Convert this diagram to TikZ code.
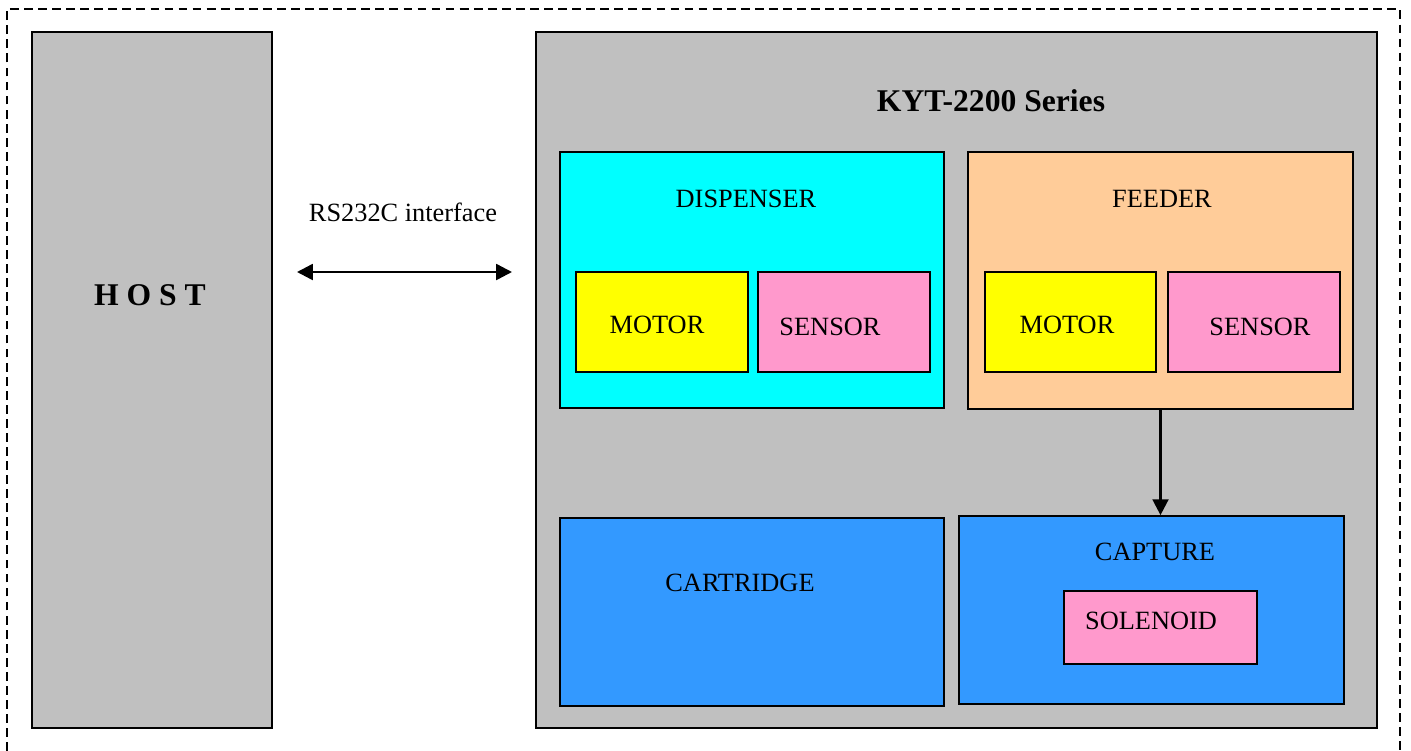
\documentclass[tikz,border=0pt]{standalone}
\usepackage{fontspec}
\setmainfont{Liberation Serif}
\usetikzlibrary{arrows.meta}
\definecolor{boxgray}{HTML}{C0C0C0}
\definecolor{dispcyan}{HTML}{00FFFF}
\definecolor{feedpeach}{HTML}{FFCC99}
\definecolor{motoryellow}{HTML}{FFFF00}
\definecolor{sensorpink}{HTML}{FF99CC}
\definecolor{cartblue}{HTML}{3399FF}
\begin{document}
\begin{tikzpicture}[x=0.02cm,y=-0.02cm,
  blok/.style={draw=black,line width=1pt,inner sep=0pt},
  lbl/.style={inner sep=0pt,font=\fontsize{15}{18}\selectfont},
  link/.style={line width=1.4pt,>={Triangle[length=9pt,width=9pt]}}]
\useasboundingbox (0,0) rectangle (1411,751);
\draw[line width=0.8pt,dash pattern=on 5pt off 3pt] (7,751) -- (7,9) -- (1400,9) -- (1400,751);
\node[blok,fill=boxgray,minimum width=4.8cm,minimum height=13.92cm] (host) at (152,380) {};
\node[blok,fill=boxgray,minimum width=16.82cm,minimum height=13.92cm] (kyt) at (956.5,380) {};
\node[blok,fill=dispcyan,minimum width=7.68cm,minimum height=5.12cm] (disp) at (752,280) {};
\node[blok,fill=motoryellow,minimum width=3.44cm,minimum height=2cm] (dmotor) at (662,322) {};
\node[blok,fill=sensorpink,minimum width=3.44cm,minimum height=2cm] (dsensor) at (844,322) {};
\node[blok,fill=feedpeach,minimum width=7.7cm,minimum height=5.14cm] (feed) at (1160.5,280.5) {};
\node[blok,fill=motoryellow,minimum width=3.42cm,minimum height=2cm] (fmotor) at (1070.5,322) {};
\node[blok,fill=sensorpink,minimum width=3.44cm,minimum height=2cm] (fsensor) at (1254,322) {};
\node[blok,fill=cartblue,minimum width=7.68cm,minimum height=3.76cm] (cart) at (752,612) {};
\node[blok,fill=cartblue,minimum width=7.7cm,minimum height=3.76cm] (capt) at (1151.5,610) {};
\node[blok,fill=sensorpink,minimum width=3.86cm,minimum height=1.46cm] (sol) at (1160.5,627.5) {};
% labels
\node[lbl,font=\fontsize{18}{22}\selectfont\bfseries] (hostlbl) at (150,295) {H O S T};
\node[lbl] (rslbl) at (403,212) {RS232C interface};
\node[lbl,font=\fontsize{18}{22}\selectfont\bfseries] (kytlbl) at (991,101) {KYT-2200 Series};
\node[lbl] (displbl) at (746,199) {DISPENSER};
\node[lbl] (dmotorlbl) at (657,325) {MOTOR};
\node[lbl] (dsensorlbl) at (830,327) {SENSOR};
\node[lbl] (feedlbl) at (1162,199) {FEEDER};
\node[lbl] (fmotorlbl) at (1067,325) {MOTOR};
\node[lbl] (fsensorlbl) at (1260,327) {SENSOR};
\node[lbl] (cartlbl) at (740,583) {CARTRIDGE};
\node[lbl] (captlbl) at (1155,552) {CAPTURE};
\node[lbl] (sollbl) at (1151,621) {SOLENOID};
% connectors
\coordinate (rsl) at (297,272);
\coordinate (rsr) at (512,272);
\draw[link,<->] (rsl) -- (rsr);
\draw[link,->] (feed.south) -- (feed.south |- capt.north);
\end{tikzpicture}
\end{document}
